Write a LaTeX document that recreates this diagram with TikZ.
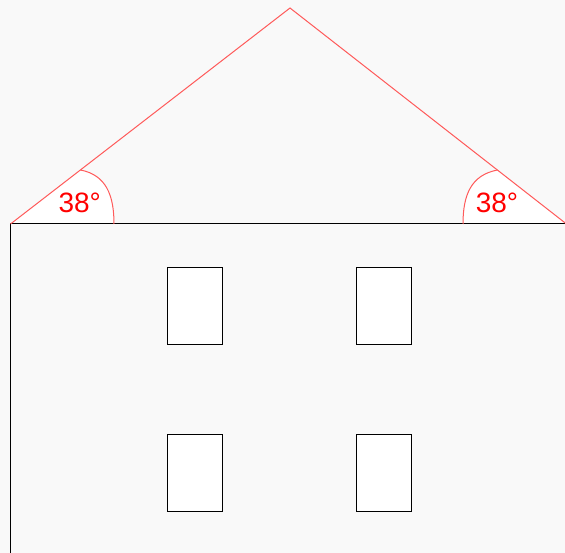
\documentclass[tikz,border=0pt]{standalone}
\usepackage{fontspec}
\setmainfont{Liberation Sans}
\definecolor{wallgray}{RGB}{249,249,249}
\definecolor{roofred}{RGB}{255,90,90}
\begin{document}
\begin{tikzpicture}[x=1pt, y=-1pt, line width=1pt]
    \useasboundingbox[fill=wallgray] (0,0) rectangle (565,553);
    \coordinate (eaveL) at (10.5,224);
    \coordinate (eaveR) at (566.5,224);
    \coordinate (ridge) at (290,8);
    % angle sectors
    \fill[white] (eaveL) -- (114,224) .. controls (114,195) and (106,175) .. (80.5,170) -- cycle;
    \fill[white] (eaveR) -- (463,224) .. controls (463,195) and (471,175) .. (497.5,170) -- cycle;
    % wall
    \draw (10.5,560) -- (eaveL) -- (eaveR);
    \foreach \x in {167,356}
    \foreach \y in {268,434}
    \draw[fill=white] (\x,\y) rectangle ++(55,77);
    % roof
    \draw[roofred] (eaveL) -- (ridge) -- (eaveR);
    \draw[roofred] (114,224) .. controls (114,195) and (106,175) .. (80.5,170);
    \draw[roofred] (463,224) .. controls (463,195) and (471,175) .. (497.5,170);
    \node[red, font=\fontsize{28}{30}\selectfont] (angleL) at (79.7,203) {38°};
    \node[red, font=\fontsize{28}{30}\selectfont] (angleR) at (497,203) {38°};
\end{tikzpicture}
\end{document}
